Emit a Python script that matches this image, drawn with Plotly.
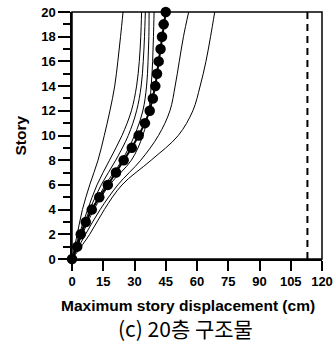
import plotly.graph_objects as go

stories = [0, 2, 4, 6, 8, 10, 12, 14, 16, 18, 20]
line_a = [0, 2.5, 5.0, 8.5, 12.5, 15.5, 18.2, 20.5, 22.0, 23.3, 24.5]
line_b = [0, 3.5, 7.5, 12.0, 18.0, 24.0, 28.5, 31.0, 32.3, 33.0, 33.4]
line_c = [0, 4.0, 8.5, 14.0, 21.0, 27.0, 31.0, 33.2, 34.2, 34.8, 35.2]
line_d = [0, 4.5, 9.5, 16.0, 24.0, 30.0, 34.0, 35.8, 36.5, 36.9, 37.0]
line_g = [0, 5.0, 10.5, 18.0, 28.5, 34.0, 36.8, 38.0, 38.7, 39.1, 39.4]
line_e = [0, 6.5, 13.5, 22.0, 33.0, 41.5, 47.0, 49.5, 51.5, 53.5, 56.0]
line_f = [0, 8.5, 15.5, 24.0, 38.0, 51.0, 58.0, 61.5, 64.3, 66.5, 68.5]
thin_lines = [line_a, line_b, line_c, line_d, line_g, line_e, line_f]

story_all = list(range(21))
mean_disp = [0, 2.5, 4.2, 6.6, 9.5, 13.1, 17.2, 21.1, 24.8, 28.7, 32.0,
             35.0, 37.3, 38.8, 40.0, 40.8, 41.6, 42.5, 43.2, 44.0, 45.0]

limit_x = [113, 113]
limit_y = [0, 20]

fig = go.Figure()
for ln in thin_lines:
    fig.add_trace(go.Scatter(x=ln, y=stories, mode="lines",
                             line=dict(color="black", width=1, shape="spline"),
                             showlegend=False))
fig.add_trace(go.Scatter(x=limit_x, y=limit_y, mode="lines",
                         line=dict(color="black", width=2, dash="7px,5px"),
                         showlegend=False))
fig.add_trace(go.Scatter(x=mean_disp, y=story_all, mode="lines+markers",
                         line=dict(color="black", width=2),
                         marker=dict(color="black", size=10.5, symbol="circle"),
                         cliponaxis=False, showlegend=False))

tickfont = dict(family="Liberation Sans, Arial", size=13, color="black", weight="bold")
titlefont = dict(family="Liberation Sans, Arial", size=15.5, color="black", weight="bold")
fig.update_layout(
    width=335, height=344,
    margin=dict(l=72, r=13, t=12, b=85, autoexpand=False),
    paper_bgcolor="white", plot_bgcolor="white",
    xaxis=dict(range=[0, 120], dtick=15, tick0=0, showgrid=False, zeroline=False,
               showline=True, linecolor="black", linewidth=1.5, automargin=False,
               ticks="outside", ticklen=10, tickwidth=1.5, tickcolor="black",
               tickfont=tickfont),
    yaxis=dict(range=[0, 20], dtick=2, tick0=0, showgrid=False, zeroline=False,
               showline=True, linecolor="black", linewidth=1.5, automargin=False,
               ticks="outside", ticklen=12, tickwidth=1.5, tickcolor="black",
               minor=dict(dtick=1, ticks="outside", ticklen=7, tickwidth=1.5,
                          tickcolor="black", showgrid=False),
               tickfont=tickfont),
    shapes=[dict(type="rect", xref="paper", yref="paper", x0=0, y0=0, x1=1, y1=1,
                 line=dict(color="black", width=1.5), layer="above")],
    annotations=[
        dict(text="Maximum story displacement (cm)", x=0.462, y=0, xref="paper",
             yref="paper", xanchor="center", yanchor="middle", yshift=-46,
             showarrow=False, font=titlefont),
        dict(text="Story", x=0, y=0.5, xref="paper", yref="paper", textangle=-90,
             xanchor="center", yanchor="middle", xshift=-52, showarrow=False,
             font=titlefont),
        dict(text="(c) 20층 구조물", x=0.452, y=0, xref="paper", yref="paper",
             xanchor="center", yanchor="middle", yshift=-69, showarrow=False,
             font=dict(family="Noto Sans CJK KR", size=21, color="black")),
    ],
)
fig.write_html("out.html")
